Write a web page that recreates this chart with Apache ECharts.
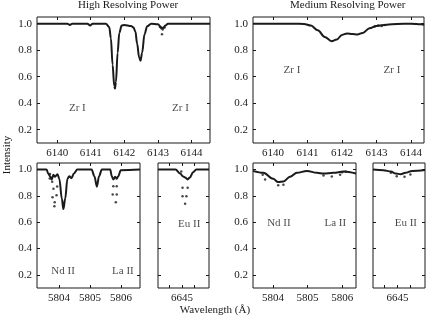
<!DOCTYPE html>
<html>
<head>
<meta charset="utf-8">
<script src="https://cdn.jsdelivr.net/npm/echarts@6/dist/echarts.min.js"></script>
<style>
  html, body { margin: 0; padding: 0; background: #fff; }
  #chart { width: 426px; height: 318px; }
</style>
</head>
<body>
<div id="chart"></div>
<script>
// tick values
var yTicks = [0.2, 0.4, 0.6, 0.8, 1.0];
var zrTicks = [6140, 6141, 6142, 6143, 6144];
var ndTicks = [5804, 5805, 5806];
var euTicks = [6645];
var euTickMarks = [6644.6, 6645, 6645.4];

// high resolving power, Zr I region
var hiZrLine = [
  [6139.4, 1.0], [6140.3, 1.0], [6140.38, 0.99], [6140.45, 1.0], [6140.9, 1.0],
  [6140.98, 0.986], [6141.06, 1.0], [6141.45, 0.999], [6141.55, 0.975], [6141.6, 0.89],
  [6141.65, 0.69], [6141.7, 0.53], [6141.72, 0.51], [6141.75, 0.56], [6141.8, 0.78],
  [6141.85, 0.93], [6141.92, 0.985], [6142.0, 0.99], [6142.2, 0.982], [6142.27, 0.972],
  [6142.33, 0.94], [6142.38, 0.85], [6142.44, 0.745], [6142.48, 0.72], [6142.53, 0.78],
  [6142.6, 0.92], [6142.68, 0.98], [6142.8, 1.0], [6143.0, 0.995], [6143.1, 0.972],
  [6143.15, 0.965], [6143.22, 0.985], [6143.3, 1.0], [6144.55, 1.0]
];
var hiZrDots = [
  [6143.06, 0.975], [6143.1, 0.965], [6143.14, 0.955], [6143.2, 0.97], [6143.12, 0.92]
];

// medium resolving power, Zr I region
var medZrLine = [
  [6139.42, 1.0], [6140.6, 1.0], [6140.9, 0.998], [6141.1, 0.985], [6141.3, 0.95],
  [6141.5, 0.9], [6141.7, 0.868], [6141.85, 0.88], [6142.0, 0.915], [6142.15, 0.926],
  [6142.3, 0.922], [6142.45, 0.918], [6142.6, 0.93], [6142.8, 0.965], [6143.0, 0.982],
  [6143.3, 0.992], [6143.6, 0.998], [6144.0, 1.0], [6144.3, 0.996], [6144.38, 0.99]
];
var medZrDots = [
  [6142.95, 0.978], [6143.05, 0.985], [6143.15, 0.982], [6143.25, 0.99]
];

// high resolving power, Nd II / La II and Eu II
var hiNdLine = [
  [5803.29, 1.0], [5803.6, 1.0], [5803.65, 0.97], [5803.71, 0.95], [5803.76, 0.925],
  [5803.82, 0.96], [5803.87, 0.945], [5803.95, 0.965], [5804.01, 0.93], [5804.09, 0.78],
  [5804.14, 0.70], [5804.2, 0.78], [5804.27, 0.93], [5804.33, 0.95], [5804.4, 0.935],
  [5804.48, 0.97], [5804.59, 1.0], [5805.05, 1.0], [5805.14, 0.95], [5805.22, 0.87],
  [5805.29, 0.95], [5805.38, 1.0], [5805.65, 1.0], [5805.7, 0.95], [5805.75, 0.925],
  [5805.81, 0.945], [5805.86, 0.93], [5805.91, 0.95], [5805.99, 0.995], [5806.61, 1.0]
];
var hiNdDots = [
  [5803.71, 0.967], [5803.7, 0.932], [5803.78, 0.907], [5803.82, 0.854], [5803.94, 0.871],
  [5803.79, 0.79], [5803.92, 0.805], [5803.86, 0.752], [5803.85, 0.722],
  [5805.75, 0.874], [5805.86, 0.874], [5805.73, 0.81], [5805.86, 0.81], [5805.83, 0.752]
];
var hiEuLine = [
  [6644.25, 1.0], [6644.8, 1.0], [6644.95, 0.97], [6645.02, 0.95], [6645.1, 0.94],
  [6645.18, 0.925], [6645.25, 0.94], [6645.35, 0.98], [6645.45, 1.0], [6645.85, 1.0]
];
var hiEuDots = [
  [6644.98, 0.985], [6645.02, 0.861], [6645.18, 0.861], [6645.02, 0.798], [6645.14, 0.798],
  [6645.1, 0.74]
];

// medium resolving power, Nd II / La II and Eu II
var medNdLine = [
  [5803.42, 0.99], [5803.72, 0.975], [5804.0, 0.93], [5804.15, 0.905], [5804.3, 0.91],
  [5804.49, 0.945], [5804.69, 0.975], [5804.98, 0.99], [5805.27, 0.975], [5805.46, 0.97],
  [5805.75, 0.975], [5806.04, 0.985], [5806.4, 0.97]
];
var medNdDots = [
  [5803.7, 0.96], [5803.77, 0.924], [5804.15, 0.88], [5804.3, 0.885], [5805.46, 0.955],
  [5805.7, 0.947], [5805.94, 0.96], [5806.0, 0.98], [5806.1, 0.985]
];
var medEuLine = [
  [6644.25, 1.0], [6644.57, 0.995], [6644.8, 0.985], [6644.95, 0.97], [6645.1, 0.965],
  [6645.25, 0.975], [6645.45, 0.99], [6645.85, 0.997]
];
var medEuDots = [
  [6644.8, 0.975], [6644.98, 0.95], [6645.22, 0.945], [6645.4, 0.962]
];

// annotations [x, y, text]
var hiZrNotes = [[6140.6, 0.36, 'Zr I'], [6143.67, 0.36, 'Zr I']];
var medZrNotes = [[6140.55, 0.65, 'Zr I'], [6143.45, 0.65, 'Zr I']];
var hiNdNotes = [[5804.13, 0.227, 'Nd II'], [5806.06, 0.227, 'La II']];
var hiEuNotes = [[6645.23, 0.583, 'Eu II']];
var medNdNotes = [[5804.17, 0.59, 'Nd II'], [5805.8, 0.59, 'La II']];
var medEuNotes = [[6645.26, 0.59, 'Eu II']];

var FONT = 'Liberation Serif';
var INK = '#1a1a1a';

var grids = [], xAxes = [], yAxes = [], series = [];

function addPanel(box, xr, labelVals, tickVals, showY, line, dots, notes) {
  var g = grids.length;
  grids.push({
    left: box[0], top: box[1], width: box[2], height: box[3],
    show: true, borderColor: INK, borderWidth: 1, outerBoundsMode: 'none'
  });
  var xBase = {
    type: 'value', gridIndex: g, min: xr[0], max: xr[1],
    axisLine: { show: false }, splitLine: { show: false },
    axisTick: { show: true, inside: true, length: 3, customValues: tickVals, lineStyle: { color: INK } }
  };
  xAxes.push(Object.assign({}, xBase, {
    position: 'bottom',
    axisLabel: {
      customValues: labelVals, margin: 5, color: INK, fontFamily: FONT, fontSize: 11,
      formatter: function (v) { return String(v); }
    }
  }));
  xAxes.push(Object.assign({}, xBase, { position: 'top', axisLabel: { show: false } }));
  var yBase = {
    type: 'value', gridIndex: g, min: 0.1, max: 1.05,
    axisLine: { show: false }, splitLine: { show: false },
    axisTick: { show: true, inside: true, length: 3, customValues: yTicks, lineStyle: { color: INK } }
  };
  yAxes.push(Object.assign({}, yBase, {
    position: 'left',
    axisLabel: {
      show: showY, customValues: yTicks, margin: 5, color: INK, fontFamily: FONT, fontSize: 11,
      formatter: function (v) { return v.toFixed(1); }
    }
  }));
  yAxes.push(Object.assign({}, yBase, { position: 'right', axisLabel: { show: false } }));
  var xi = g * 2, yi = g * 2;
  series.push({
    type: 'line', xAxisIndex: xi, yAxisIndex: yi, data: line,
    showSymbol: false, smooth: 0.35, smoothMonotone: 'x',
    lineStyle: { color: INK, width: 2 }, silent: true
  });
  series.push({
    type: 'scatter', xAxisIndex: xi, yAxisIndex: yi, data: dots,
    symbolSize: 2.5, itemStyle: { color: INK }, silent: true
  });
  series.push({
    type: 'scatter', xAxisIndex: xi, yAxisIndex: yi, symbolSize: 0, silent: true,
    data: notes.map(function (n) { return { value: [n[0], n[1]], name: n[2] }; }),
    label: {
      show: true, position: 'inside', formatter: '{b}',
      color: INK, fontFamily: FONT, fontSize: 11
    }
  });
}

addPanel([37, 17, 173, 126], [6139.4, 6144.55], zrTicks, zrTicks, true, hiZrLine, hiZrDots, hiZrNotes);
addPanel([253, 17, 171, 126], [6139.42, 6144.38], zrTicks, zrTicks, true, medZrLine, medZrDots, medZrNotes);
addPanel([37, 163, 103, 125], [5803.29, 5806.61], ndTicks, ndTicks, true, hiNdLine, hiNdDots, hiNdNotes);
addPanel([158, 163, 51, 125], [6644.25, 6645.85], euTicks, euTickMarks, false, hiEuLine, hiEuDots, hiEuNotes);
addPanel([253, 163, 103, 125], [5803.42, 5806.4], ndTicks, ndTicks, true, medNdLine, medNdDots, medNdNotes);
addPanel([373, 163, 52, 125], [6644.25, 6645.85], euTicks, euTickMarks, false, medEuLine, medEuDots, medEuNotes);

var chart = echarts.init(document.getElementById('chart'), null, { renderer: 'canvas' });
chart.setOption({
  animation: false,
  backgroundColor: '#fff',
  grid: grids,
  xAxis: xAxes,
  yAxis: yAxes,
  series: series,
  graphic: [
    { type: 'text', left: 78, top: 0, style: { text: 'High Resolving Power', fill: INK, font: '11px "Liberation Serif"' } },
    { type: 'text', left: 290, top: 0, style: { text: 'Medium Resolving Power', fill: INK, font: '11px "Liberation Serif"' } },
    { type: 'text', x: 7, y: 155, rotation: Math.PI / 2,
      style: { text: 'Intensity', fill: INK, font: '11px "Liberation Serif"', align: 'center', verticalAlign: 'middle' } },
    { type: 'text', x: 215, y: 310,
      style: { text: 'Wavelength (Å)', fill: INK, font: '11px "Liberation Serif"', align: 'center', verticalAlign: 'middle' } }
  ]
});
</script>
</body>
</html>
